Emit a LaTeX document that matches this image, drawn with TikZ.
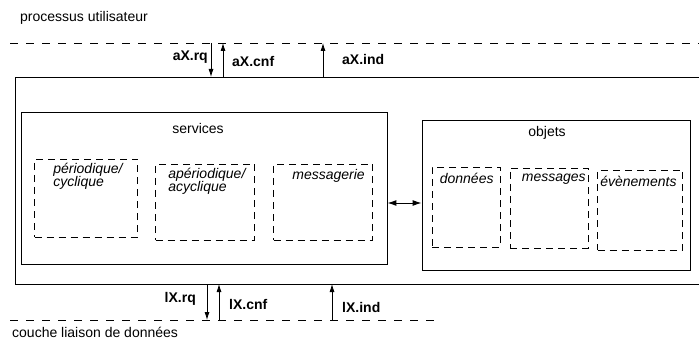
\documentclass[tikz,border=0pt]{standalone}
\usepackage{fontspec}
\setmainfont{Liberation Sans}
\usetikzlibrary{arrows.meta}

\begin{document}
\begin{tikzpicture}[x=1pt, y=-1pt, font=\fontsize{14}{14}\selectfont,
    frame/.style={draw, line width=0.9pt, inner sep=0pt},
    sub/.style={draw, dashed, dash pattern=on 7pt off 5pt, line width=0.7pt, inner sep=0pt},
    txt/.style={anchor=north west, inner sep=0pt, align=left, font=\fontsize{14}{13.5}\selectfont\itshape},
    prim/.style={inner sep=0pt, font=\fontsize{14}{14}\selectfont\bfseries},
    sig/.style={line width=0.8pt, -{Latex[length=8pt,width=5pt]}}]
    \useasboundingbox (0,0) rectangle (699,342);
    % layer boundaries
    \coordinate (usrL) at (10,43);
    \coordinate (usrR) at (699,43);
    \coordinate (llcL) at (10,320);
    \coordinate (llcR) at (440,320);
    \draw[dashed, dash pattern=on 8pt off 8pt, line width=0.6pt] (usrL) -- (usrR);
    \draw[dashed, dash pattern=on 8pt off 8pt, line width=0.6pt] (llcL) -- (llcR);
    \node[anchor=west, inner sep=0pt] (usr) at (20,18) {processus utilisateur};
    \node[anchor=west, inner sep=0pt] (llc) at (12,332) {couche liaison de donn\'ees};
    % application layer box (open to the right)
    \coordinate (boxNW) at (15,77);
    \coordinate (boxSW) at (15,284);
    \draw[line width=0.9pt] (699,77) -- (boxNW) -- (boxSW) -- (699,284);
    % services
    \node[frame, minimum width=366pt, minimum height=152pt] (services) at (204,188) {};
    \node (servicesT) at (198,128) {services};
    \node[sub, minimum width=103pt, minimum height=78pt] (per) at (86,198) {};
    \node[sub, minimum width=99pt, minimum height=76pt] (aper) at (205,202) {};
    \node[sub, minimum width=99pt, minimum height=76pt] (mess) at (323,202) {};
    \node[txt] at ([shift={(19,4)}]per.north west) {p\'eriodique/\\cyclique};
    \node[txt] at ([shift={(13,4)}]aper.north west) {ap\'eriodique/\\acyclique};
    \node[txt] at ([shift={(19,6)}]mess.north west) {messagerie};
    % objets
    \node[frame, minimum width=268pt, minimum height=150pt] (objets) at (556,195) {};
    \node (objetsT) at (547,133) {objets};
    \node[sub, minimum width=68pt, minimum height=80pt] (don) at (466,207) {};
    \node[sub, minimum width=78pt, minimum height=80pt] (msg) at (549,208) {};
    \node[sub, minimum width=85pt, minimum height=80pt] (evt) at (640,210) {};
    \node[txt] at ([shift={(8,6)}]don.north west) {donn\'ees};
    \node[txt] at ([shift={(12,6)}]msg.north west) {messages};
    \node[txt] at ([shift={(3,6)}]evt.north west) {\'ev\`enements};
    \draw[line width=1pt, {Latex[length=9pt,width=6pt]}-{Latex[length=9pt,width=6pt]}]
        (services.east |- 0,203) -- (objets.west |- 0,203);
    % primitives aX
    \draw[sig] (usrL -| 211,0) -- (boxNW -| 211,0);
    \draw[sig] (boxNW -| 223,0) -- (usrL -| 223,0);
    \draw[sig] (boxNW -| 323,0) -- (usrL -| 323,0);
    \node[prim, anchor=east] (aXrq) at (208,57) {aX.rq};
    \node[prim, anchor=west] (aXcnf) at (232,61) {aX.cnf};
    \node[prim, anchor=west] (aXind) at (342,59) {aX.ind};
    % primitives lX
    \draw[sig] (boxSW -| 207,0) -- (llcL -| 207,0);
    \draw[sig] (llcL -| 219,0) -- (boxSW -| 219,0);
    \draw[sig] (llcL -| 332,0) -- (boxSW -| 332,0);
    \node[prim, anchor=east] (lXrq) at (196,299) {lX.rq};
    \node[prim, anchor=west] (lXcnf) at (229,304) {lX.cnf};
    \node[prim, anchor=west] (lXind) at (342,307) {lX.ind};
\end{tikzpicture}
\end{document}
